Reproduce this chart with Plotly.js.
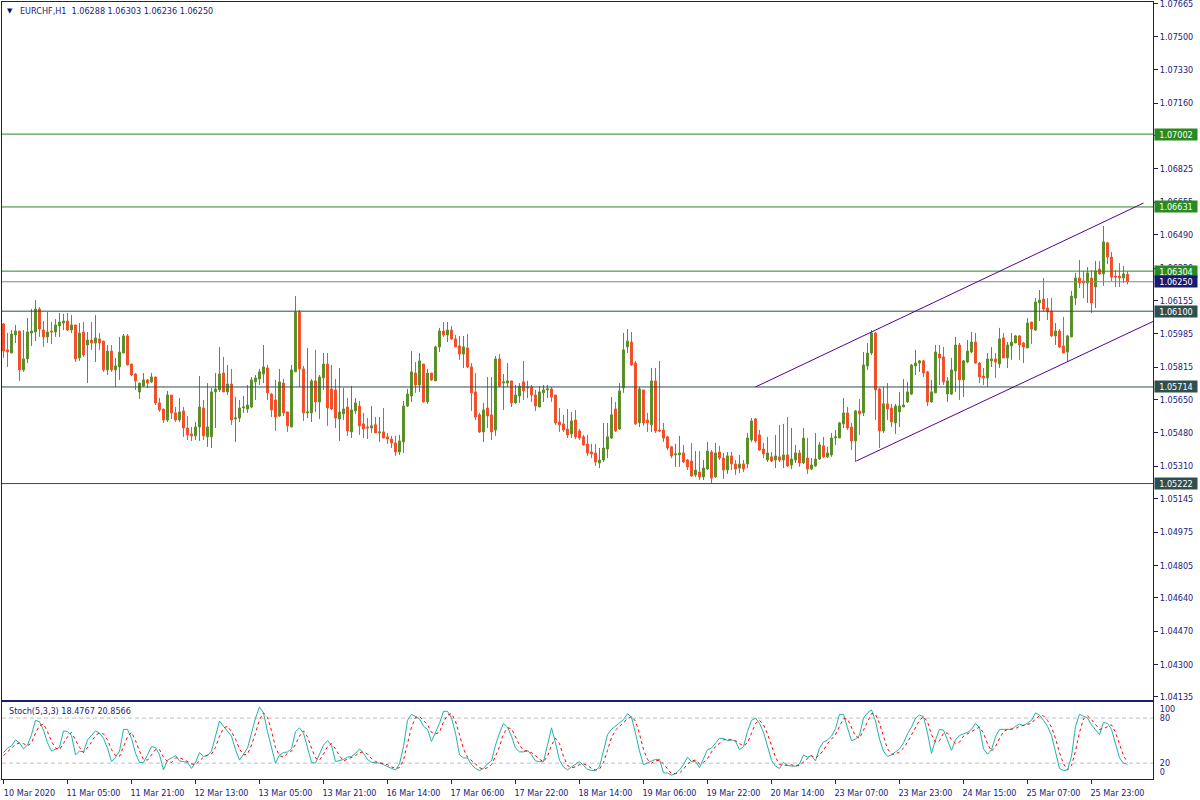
<!DOCTYPE html>
<html>
<head>
<meta charset="utf-8">
<script src="https://cdn.plot.ly/plotly-3.0.1.min.js"></script>
<style>
  html, body { margin: 0; padding: 0; background: #ffffff; }
  #chart { width: 1200px; height: 800px; }
</style>
</head>
<body>
<div id="chart"></div>
<script>
// ---------------- DATA ----------------
const symbolTitle = "EURCHF,H1\u00A0\u00A01.06288 1.06303 1.06236 1.06250";
const stochTitle = "Stoch(5,3,3) 18.4767 20.8566";

const tickBars = [0,16,32,48,64,80,96,112,128,144,160,176,192,208,224,240,256,272];
const tickLabels = ["10 Mar 2020","11 Mar 05:00","11 Mar 21:00","12 Mar 13:00","13 Mar 05:00","13 Mar 21:00",
  "16 Mar 14:00","17 Mar 06:00","17 Mar 22:00","18 Mar 14:00","19 Mar 06:00","19 Mar 22:00",
  "20 Mar 14:00","23 Mar 07:00","23 Mar 23:00","24 Mar 15:00","25 Mar 07:00","25 Mar 23:00"];

const priceTicks = [1.07665,1.07500,1.07330,1.07160,1.06995,1.06825,1.06655,1.06490,1.06320,1.06155,
  1.05985,1.05815,1.05650,1.05480,1.05310,1.05145,1.04975,1.04805,1.04640,1.04470,1.04300,1.04135];
const priceTickText = ["1.07665","1.07500","1.07330","1.07160","1.06995","1.06825","1.06655","1.06490","1.06320","1.06155",
  "1.05985","1.05815","1.05650","1.05480","1.05310","1.05145","1.04975","1.04805","1.04640","1.04470","1.04300","1.04135"];

const stochTicks = [92.6, 80, 20, 8.3];
const stochTickText = ["100", "80", "20", "0"];
const stochLevels = [80, 20];

const levelPrices = [1.07002, 1.06631, 1.06304, 1.06100, 1.05714, 1.05222];
const levelText   = ["1.07002","1.06631","1.06304","1.06100","1.05714","1.05222"];
const levelKind   = ["green","green","green","slate","slate","slate"];
const bidPrice = 1.06250;
const bidText = "1.06250";

const channelUpperBars = [188, 285];
const channelUpperPrices = [1.05714, 1.06651];
const channelLowerBars = [213.2, 287.5];
const channelLowerPrices = [1.05337, 1.06049];

const open = [
1.06035,1.05903,1.05887,1.05979,1.05999,1.05801,1.05857,1.05989,1.05994,1.06111,
1.06004,1.05969,1.05999,1.05994,1.06025,1.06040,1.06050,1.06004,1.06030,1.05862,
1.05994,1.05928,1.05953,1.05938,1.05959,1.05948,1.05801,1.05897,1.05801,1.05816,
1.05887,1.05974,1.05831,1.05780,1.05689,1.05719,1.05750,1.05740,1.05765,1.05633,
1.05602,1.05546,1.05673,1.05582,1.05546,1.05592,1.05505,1.05475,1.05465,1.05510,
1.05607,1.05460,1.05460,1.05689,1.05699,1.05785,1.05689,1.05729,1.05551,1.05556,
1.05607,1.05602,1.05612,1.05740,1.05755,1.05780,1.05811,1.05678,1.05648,1.05566,
1.05734,1.05587,1.05510,1.05791,1.06096,1.05806,1.05582,1.05582,1.05745,1.05638,
1.05760,1.05831,1.05704,1.05699,1.05551,1.05577,1.05612,1.05485,1.05592,1.05617,
1.05526,1.05510,1.05505,1.05521,1.05480,1.05485,1.05460,1.05449,1.05429,1.05383,
1.05434,1.05617,1.05668,1.05785,1.05724,1.05831,1.05638,1.05785,1.05745,1.05918,
1.05999,1.05979,1.06004,1.05959,1.05923,1.05882,1.05913,1.05816,1.05689,1.05572,
1.05485,1.05607,1.05572,1.05495,1.05857,1.05734,1.05734,1.05745,1.05633,1.05668,
1.05740,1.05709,1.05714,1.05673,1.05612,1.05684,1.05699,1.05704,1.05673,1.05536,
1.05526,1.05500,1.05475,1.05546,1.05490,1.05460,1.05424,1.05383,1.05378,1.05327,
1.05342,1.05398,1.05454,1.05602,1.05500,1.05709,1.05918,1.05943,1.05836,1.05531,
1.05699,1.05546,1.05521,1.05745,1.05495,1.05495,1.05460,1.05409,1.05368,1.05368,
1.05378,1.05342,1.05337,1.05266,1.05281,1.05256,1.05296,1.05383,1.05256,1.05383,
1.05352,1.05291,1.05363,1.05322,1.05301,1.05322,1.05322,1.05444,1.05551,1.05470,
1.05398,1.05342,1.05358,1.05342,1.05358,1.05342,1.05368,1.05317,1.05342,1.05378,
1.05327,1.05352,1.05296,1.05312,1.05347,1.05414,1.05358,1.05368,1.05454,1.05454,
1.05526,1.05582,1.05510,1.05439,1.05592,1.05582,1.05821,1.05887,1.05989,1.05704,
1.05490,1.05628,1.05607,1.05531,1.05587,1.05612,1.05638,1.05678,1.05821,1.05836,
1.05847,1.05791,1.05638,1.05684,1.05882,1.05867,1.05678,1.05678,1.05796,1.05928,
1.05750,1.05841,1.05892,1.05943,1.05836,1.05770,1.05760,1.05847,1.05857,1.05831,
1.05964,1.05862,1.05923,1.05938,1.05974,1.05938,1.05913,1.06045,1.06004,1.06142,
1.06162,1.06116,1.06101,1.05974,1.05999,1.05923,1.05892,1.05969,1.06167,1.06269,
1.06254,1.06244,1.06269,1.06223,1.06315,1.06290,1.06448,1.06376,1.06279,1.06279,
1.06269,1.06288];

const high = [
1.06040,1.05989,1.06004,1.06030,1.05999,1.06004,1.06065,1.06111,1.06157,1.06121,
1.06050,1.06096,1.06045,1.06060,1.06091,1.06086,1.06091,1.06081,1.06030,1.06040,
1.06045,1.05994,1.06045,1.06081,1.05989,1.05948,1.05928,1.05928,1.05862,1.05969,
1.05984,1.05984,1.05831,1.05785,1.05734,1.05785,1.05755,1.05785,1.05765,1.05658,
1.05602,1.05694,1.05673,1.05612,1.05658,1.05612,1.05566,1.05510,1.05536,1.05770,
1.05648,1.05734,1.05709,1.05785,1.05918,1.05867,1.05826,1.05806,1.05663,1.05648,
1.05668,1.05724,1.05765,1.05775,1.05806,1.05928,1.05826,1.05684,1.05750,1.05806,
1.05755,1.05587,1.05826,1.06177,1.06106,1.05821,1.05913,1.05755,1.05903,1.05775,
1.05887,1.05887,1.05826,1.05755,1.05811,1.05709,1.05658,1.05719,1.05658,1.05643,
1.05582,1.05556,1.05617,1.05561,1.05561,1.05607,1.05480,1.05465,1.05465,1.05470,
1.05643,1.05704,1.05897,1.05841,1.05887,1.05831,1.05806,1.05785,1.05923,1.06015,
1.06045,1.06045,1.06025,1.05979,1.05974,1.05974,1.05984,1.05836,1.05785,1.05582,
1.05633,1.05765,1.05765,1.05872,1.05882,1.05780,1.05836,1.05745,1.05724,1.05734,
1.05847,1.05745,1.05724,1.05699,1.05719,1.05724,1.05724,1.05714,1.05673,1.05607,
1.05572,1.05602,1.05587,1.05597,1.05500,1.05470,1.05470,1.05424,1.05424,1.05403,
1.05531,1.05531,1.05663,1.05638,1.05734,1.05989,1.06009,1.05994,1.05847,1.05714,
1.05699,1.05582,1.05811,1.05811,1.05847,1.05531,1.05465,1.05414,1.05424,1.05465,
1.05419,1.05347,1.05429,1.05388,1.05388,1.05342,1.05434,1.05393,1.05429,1.05414,
1.05378,1.05383,1.05383,1.05342,1.05368,1.05342,1.05480,1.05556,1.05556,1.05495,
1.05429,1.05460,1.05383,1.05470,1.05521,1.05526,1.05561,1.05505,1.05419,1.05393,
1.05505,1.05454,1.05352,1.05480,1.05434,1.05460,1.05409,1.05480,1.05495,1.05536,
1.05658,1.05612,1.05531,1.05597,1.05653,1.05892,1.05938,1.06004,1.05994,1.05709,
1.05714,1.05734,1.05628,1.05628,1.05689,1.05755,1.05740,1.05831,1.05903,1.05852,
1.05852,1.05796,1.05750,1.05928,1.05928,1.05918,1.05765,1.05862,1.05969,1.05938,
1.05852,1.05953,1.05994,1.05989,1.05841,1.05811,1.05887,1.05918,1.05887,1.06015,
1.05989,1.05943,1.05989,1.05979,1.05979,1.05943,1.06065,1.06045,1.06167,1.06208,
1.06269,1.06167,1.06167,1.06040,1.06009,1.06071,1.05979,1.06203,1.06295,1.06361,
1.06305,1.06325,1.06310,1.06356,1.06356,1.06534,1.06453,1.06402,1.06310,1.06345,
1.06330,1.06303];

const low = [
1.05862,1.05816,1.05887,1.05938,1.05745,1.05791,1.05836,1.05923,1.05948,1.05969,
1.05918,1.05938,1.05933,1.05969,1.05969,1.06004,1.05999,1.05989,1.05841,1.05847,
1.05867,1.05734,1.05903,1.05841,1.05903,1.05791,1.05775,1.05791,1.05714,1.05750,
1.05887,1.05826,1.05770,1.05699,1.05653,1.05714,1.05709,1.05734,1.05622,1.05587,
1.05531,1.05536,1.05551,1.05536,1.05536,1.05460,1.05444,1.05439,1.05444,1.05439,
1.05444,1.05409,1.05403,1.05505,1.05689,1.05689,1.05673,1.05521,1.05434,1.05536,
1.05582,1.05582,1.05607,1.05648,1.05724,1.05734,1.05648,1.05561,1.05490,1.05561,
1.05566,1.05485,1.05510,1.05791,1.05714,1.05541,1.05556,1.05536,1.05587,1.05551,
1.05699,1.05516,1.05597,1.05505,1.05439,1.05546,1.05465,1.05454,1.05577,1.05470,
1.05454,1.05449,1.05480,1.05480,1.05434,1.05454,1.05424,1.05403,1.05363,1.05368,
1.05378,1.05612,1.05638,1.05684,1.05689,1.05633,1.05628,1.05745,1.05745,1.05892,
1.05969,1.05943,1.05953,1.05918,1.05852,1.05811,1.05811,1.05592,1.05546,1.05480,
1.05434,1.05505,1.05444,1.05465,1.05714,1.05597,1.05714,1.05612,1.05628,1.05633,
1.05648,1.05658,1.05638,1.05592,1.05612,1.05638,1.05658,1.05638,1.05521,1.05485,
1.05485,1.05454,1.05454,1.05449,1.05444,1.05414,1.05363,1.05352,1.05312,1.05301,
1.05332,1.05352,1.05449,1.05485,1.05495,1.05684,1.05887,1.05821,1.05521,1.05510,
1.05516,1.05485,1.05485,1.05480,1.05485,1.05434,1.05393,1.05352,1.05307,1.05307,
1.05327,1.05291,1.05256,1.05256,1.05240,1.05240,1.05291,1.05225,1.05250,1.05342,
1.05245,1.05271,1.05291,1.05266,1.05276,1.05281,1.05301,1.05434,1.05429,1.05388,
1.05352,1.05332,1.05332,1.05301,1.05332,1.05301,1.05307,1.05296,1.05327,1.05307,
1.05322,1.05271,1.05291,1.05307,1.05342,1.05352,1.05352,1.05358,1.05419,1.05454,
1.05505,1.05495,1.05393,1.05332,1.05470,1.05566,1.05801,1.05877,1.05546,1.05403,
1.05480,1.05546,1.05510,1.05475,1.05510,1.05612,1.05633,1.05673,1.05775,1.05791,
1.05765,1.05617,1.05633,1.05684,1.05724,1.05724,1.05638,1.05673,1.05689,1.05648,
1.05663,1.05836,1.05887,1.05831,1.05734,1.05724,1.05714,1.05816,1.05760,1.05811,
1.05862,1.05811,1.05852,1.05938,1.05852,1.05836,1.05913,1.05933,1.05999,1.06050,
1.06096,1.06055,1.05969,1.05928,1.05913,1.05887,1.05841,1.05969,1.06132,1.06218,
1.06167,1.06142,1.06091,1.06116,1.06285,1.06229,1.06340,1.06254,1.06223,1.06223,
1.06244,1.06236];

const close = [
1.05897,1.05892,1.05984,1.05999,1.05801,1.05857,1.05994,1.05999,1.06111,1.06009,
1.05969,1.05994,1.05994,1.06030,1.06045,1.06050,1.06004,1.06030,1.05857,1.05989,
1.05877,1.05953,1.05938,1.05964,1.05938,1.05801,1.05897,1.05801,1.05821,1.05892,
1.05974,1.05826,1.05775,1.05745,1.05734,1.05750,1.05734,1.05765,1.05633,1.05597,
1.05546,1.05673,1.05582,1.05546,1.05587,1.05505,1.05470,1.05465,1.05510,1.05612,
1.05465,1.05510,1.05689,1.05704,1.05780,1.05689,1.05729,1.05546,1.05556,1.05607,
1.05612,1.05622,1.05750,1.05760,1.05791,1.05816,1.05684,1.05597,1.05561,1.05740,
1.05582,1.05516,1.05801,1.06096,1.05806,1.05582,1.05587,1.05745,1.05638,1.05765,
1.05831,1.05607,1.05602,1.05556,1.05587,1.05602,1.05490,1.05597,1.05633,1.05516,
1.05500,1.05505,1.05516,1.05480,1.05485,1.05454,1.05449,1.05429,1.05383,1.05439,
1.05617,1.05678,1.05791,1.05724,1.05847,1.05638,1.05785,1.05750,1.05918,1.05999,
1.05979,1.06004,1.05959,1.05918,1.05882,1.05918,1.05816,1.05684,1.05561,1.05485,
1.05597,1.05566,1.05485,1.05857,1.05719,1.05740,1.05745,1.05633,1.05673,1.05719,
1.05694,1.05714,1.05673,1.05617,1.05689,1.05699,1.05704,1.05663,1.05531,1.05521,
1.05495,1.05470,1.05541,1.05460,1.05454,1.05419,1.05378,1.05373,1.05332,1.05342,
1.05403,1.05460,1.05572,1.05490,1.05694,1.05903,1.05948,1.05826,1.05526,1.05704,
1.05531,1.05531,1.05745,1.05490,1.05490,1.05454,1.05403,1.05363,1.05373,1.05378,
1.05332,1.05307,1.05261,1.05291,1.05256,1.05301,1.05388,1.05250,1.05378,1.05352,
1.05291,1.05363,1.05322,1.05296,1.05322,1.05296,1.05454,1.05541,1.05439,1.05393,
1.05373,1.05378,1.05337,1.05363,1.05342,1.05368,1.05312,1.05347,1.05378,1.05327,
1.05454,1.05296,1.05317,1.05347,1.05419,1.05358,1.05378,1.05454,1.05460,1.05531,
1.05582,1.05505,1.05439,1.05592,1.05577,1.05826,1.05887,1.05989,1.05699,1.05490,
1.05628,1.05602,1.05536,1.05617,1.05617,1.05622,1.05689,1.05826,1.05836,1.05847,
1.05785,1.05638,1.05689,1.05892,1.05862,1.05740,1.05745,1.05801,1.05928,1.05750,
1.05847,1.05897,1.05943,1.05836,1.05765,1.05760,1.05857,1.05857,1.05841,1.05959,
1.05862,1.05928,1.05943,1.05974,1.05928,1.05918,1.06040,1.06009,1.06147,1.06157,
1.06111,1.06096,1.05974,1.05999,1.05918,1.05887,1.05974,1.06177,1.06269,1.06244,
1.06244,1.06295,1.06142,1.06305,1.06290,1.06453,1.06376,1.06274,1.06274,1.06269,
1.06290,1.06250];

const stochK = [
34,40,43,51,47,39,44,58,77,75,
64,47,36,38,41,63,62,57,31,36,
35,51,57,63,60,53,40,22,28,36,
65,65,53,33,21,21,31,42,41,31,
11,24,27,30,23,22,21,13,21,34,
29,30,36,56,76,69,62,56,38,24,
32,40,60,80,95,87,62,40,20,31,
34,35,39,62,67,60,39,21,20,31,
44,50,44,22,23,25,28,29,33,39,
33,25,21,21,20,18,15,13,11,19,
42,77,85,82,79,69,65,49,62,73,
89,89,80,60,31,27,27,18,13,10,
13,19,23,44,60,73,68,56,40,35,
35,37,31,23,22,22,44,67,47,24,
15,11,15,18,22,17,12,10,10,15,
38,58,65,69,73,78,86,81,60,36,
18,20,23,25,25,7,7,4,6,11,
18,28,22,22,14,26,38,40,47,53,
53,50,51,49,38,42,62,77,80,73,
61,44,24,16,13,21,17,16,16,19,
31,28,30,23,40,48,51,56,66,85,
85,67,50,52,57,80,87,91,76,52,
36,29,31,35,39,47,59,68,80,84,
82,60,33,51,65,64,51,37,51,57,
59,61,65,73,67,39,32,38,55,65,
65,65,65,69,72,70,73,77,87,84,
77,69,57,33,13,10,11,29,69,85,
83,80,71,65,58,74,73,65,44,27,
20,18.4767];

const stochD = [
30,35,39,45,47,46,43,47,60,70,
72,62,49,40,38,47,55,61,50,41,
34,41,48,57,60,59,51,38,30,29,
43,55,61,50,36,25,24,31,38,38,
28,22,21,27,27,25,22,19,18,23,
28,31,32,41,56,67,69,62,52,39,
31,32,44,60,78,87,81,63,41,30,
28,33,36,45,56,63,55,40,27,24,
32,42,46,39,30,23,25,27,30,34,
35,32,26,22,21,20,18,15,13,14,
24,46,68,81,82,77,71,61,59,61,
75,84,86,76,57,39,28,24,19,14,
12,14,18,29,42,59,67,66,55,44,
37,36,34,30,25,22,29,44,53,46,
29,17,14,15,18,19,17,13,11,12,
21,37,54,64,69,73,79,82,76,59,
38,25,20,23,24,19,13,6,6,7,
12,19,23,24,19,21,26,35,42,47,
51,52,51,50,46,43,47,60,73,77,
71,59,43,28,18,17,17,18,16,17,
22,26,30,27,31,37,46,52,58,69,
79,79,67,56,53,63,75,86,85,73,
55,39,32,32,35,40,48,58,69,77,
82,75,58,48,50,60,60,51,46,48,
56,59,62,66,68,60,46,36,42,53,
62,65,65,66,69,70,72,73,79,83,
83,77,68,53,34,19,11,17,36,61,
79,83,78,72,65,66,68,71,61,45,
30,20.8566];

// ---------------- STYLE ----------------
const NAVY = "#1c1c78";
const TEXT = "#22227a";
const BULL = "#5A8F29";
const BEAR = "#F2502A";
const GREEN = "#2A8A22";
const SLATE = "#2F4F4F";
const FONT = "'DejaVu Sans Condensed', 'Liberation Sans', sans-serif";
const FS = 9;

const barIndex = open.map((_, i) => i);
const xRange = [-0.375, 287.375];

const traces = [
  {
    type: "candlestick",
    x: barIndex, open: open, high: high, low: low, close: close,
    xaxis: "x2", yaxis: "y",
    increasing: { line: { color: BULL, width: 1 }, fillcolor: BULL },
    decreasing: { line: { color: BEAR, width: 1 }, fillcolor: BEAR },
    whiskerwidth: 0,
    hoverinfo: "skip",
    showlegend: false
  },
  {
    type: "scatter", mode: "lines",
    x: barIndex, y: stochK, xaxis: "x", yaxis: "y2",
    line: { color: "#20B2AA", width: 1 },
    hoverinfo: "skip", showlegend: false
  },
  {
    type: "scatter", mode: "lines",
    x: barIndex, y: stochD, xaxis: "x", yaxis: "y2",
    line: { color: "#FF0000", width: 1, dash: "3px,3px" },
    hoverinfo: "skip", showlegend: false
  }
];

const shapes = [];
levelPrices.forEach((p, i) => {
  shapes.push({
    type: "line", xref: "paper", x0: 0, x1: 1, yref: "y", y0: p, y1: p,
    line: { color: levelKind[i] === "green" ? GREEN : SLATE, width: 1 }
  });
});
shapes.push({
  type: "line", xref: "paper", x0: 0, x1: 1, yref: "y", y0: bidPrice, y1: bidPrice,
  line: { color: "#778899", width: 1 }
});
shapes.push({
  type: "line", xref: "x2", yref: "y",
  x0: channelUpperBars[0], x1: channelUpperBars[1], y0: channelUpperPrices[0], y1: channelUpperPrices[1],
  line: { color: "#55009A", width: 1 }
});
shapes.push({
  type: "line", xref: "x2", yref: "y",
  x0: channelLowerBars[0], x1: channelLowerBars[1], y0: channelLowerPrices[0], y1: channelLowerPrices[1],
  line: { color: "#55009A", width: 1 }
});
stochLevels.forEach(v => {
  shapes.push({
    type: "line", xref: "paper", x0: 0, x1: 1, yref: "y2", y0: v, y1: v,
    line: { color: "#C0C0C0", width: 1, dash: "4px,3px" }, layer: "below"
  });
});

const annotations = [];
levelPrices.forEach((p, i) => {
  annotations.push({
    xref: "paper", x: 1, xanchor: "left", xshift: 1,
    yref: "y", y: p, yanchor: "middle",
    text: levelText[i], showarrow: false,
    bgcolor: levelKind[i] === "green" ? GREEN : SLATE,
    font: { family: FONT, size: FS, color: "#ffffff" },
    width: 42, height: 11, borderpad: 0
  });
});
annotations.push({
  xref: "paper", x: 1, xanchor: "left", xshift: 1,
  yref: "y", y: bidPrice, yanchor: "middle",
  text: bidText, showarrow: false, bgcolor: "#191970",
  font: { family: FONT, size: FS, color: "#ffffff" },
  width: 42, height: 11, borderpad: 0
});
annotations.push({
  xref: "paper", x: 0.0026, xanchor: "left",
  yref: "paper", y: 0.9885, yanchor: "middle",
  text: "\u25BC", showarrow: false,
  font: { family: "DejaVu Sans", size: 7, color: "#101060" }
});
annotations.push({
  xref: "paper", x: 0.0139, xanchor: "left",
  yref: "paper", y: 0.9884, yanchor: "middle",
  text: symbolTitle, showarrow: false,
  font: { family: FONT, size: FS, color: TEXT }
});
annotations.push({
  xref: "paper", x: 0.0043, xanchor: "left",
  yref: "paper", y: 0.0875, yanchor: "middle",
  text: stochTitle, showarrow: false,
  font: { family: FONT, size: FS, color: TEXT }
});

const layout = {
  width: 1200, height: 800,
  margin: { l: 2, r: 47, t: 2, b: 21, pad: 0 },
  paper_bgcolor: "#ffffff", plot_bgcolor: "#ffffff",
  showlegend: false,
  font: { family: FONT, size: FS, color: TEXT },
  boxgap: 0.3, boxgroupgap: 0.3,
  xaxis: {
    domain: [0, 1], anchor: "y2", range: xRange,
    tickmode: "array", tickvals: tickBars, ticktext: tickLabels,
    ticks: "outside", ticklen: 4, tickcolor: NAVY, tickwidth: 1,
    ticklabelshift: 26, ticklabelstandoff: 1,
    tickfont: { family: FONT, size: FS, color: TEXT },
    showline: true, linecolor: NAVY, linewidth: 1, mirror: true,
    showgrid: false, zeroline: false, fixedrange: true
  },
  xaxis2: {
    domain: [0, 1], anchor: "y", range: xRange,
    showticklabels: false, ticks: "",
    showline: true, linecolor: NAVY, linewidth: 1, mirror: true,
    showgrid: false, zeroline: false, fixedrange: true,
    rangeslider: { visible: false }
  },
  yaxis: {
    domain: [0.1023, 1], anchor: "x2", side: "right",
    range: [1.04122, 1.07675],
    tickmode: "array", tickvals: priceTicks, ticktext: priceTickText,
    ticks: "outside", ticklen: 4, tickcolor: NAVY, tickwidth: 1,
    ticklabeloverflow: "allow",
    tickfont: { family: FONT, size: FS, color: TEXT },
    showline: true, linecolor: NAVY, linewidth: 1, mirror: true,
    showgrid: false, zeroline: false, fixedrange: true
  },
  yaxis2: {
    domain: [0, 0.0985], anchor: "x", side: "right",
    range: [-1.1, 100.8],
    tickmode: "array", tickvals: stochTicks, ticktext: stochTickText,
    ticks: "outside", ticklen: 4, tickcolor: "rgba(0,0,0,0)",
    ticklabeloverflow: "allow",
    tickfont: { family: FONT, size: FS, color: TEXT },
    showline: true, linecolor: NAVY, linewidth: 1, mirror: true,
    showgrid: false, zeroline: false, fixedrange: true
  },
  shapes: shapes,
  annotations: annotations
};

Plotly.newPlot("chart", traces, layout, { displayModeBar: false, staticPlot: true });
</script>
</body>
</html>
